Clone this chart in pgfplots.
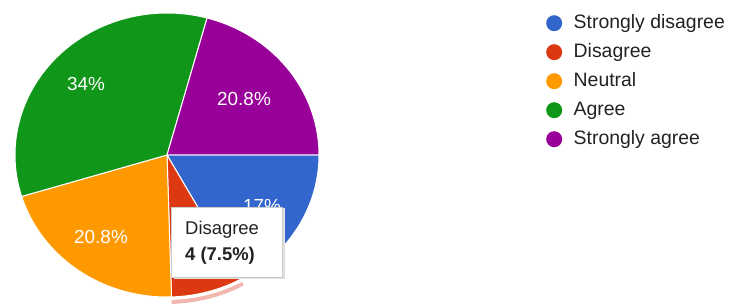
\documentclass[border=0pt]{standalone}
\usepackage{pgfplots}
\pgfplotsset{compat=1.18}
\usepackage{pgfplotstable}
\usepackage{fontspec}
\setmainfont{Liberation Sans}
\definecolor{c0}{HTML}{3366CC}
\definecolor{c1}{HTML}{DC3912}
\definecolor{c2}{HTML}{FF9900}
\definecolor{c3}{HTML}{109618}
\definecolor{c4}{HTML}{990099}
\definecolor{txt}{HTML}{222222}
\definecolor{hover}{HTML}{F2B8B0}

\pgfplotstableread{
name count
{Strongly disagree} 9
{Disagree} 4
{Neutral} 11
{Agree} 18
{Strongly agree} 11
}\piedata

\begin{document}
\begin{tikzpicture}
\useasboundingbox (0,0) rectangle (733bp,305bp);
\begin{axis}[
  at={(0,0)}, anchor=south west,
  width=733bp, height=305bp, scale only axis,
  xmin=0, xmax=733, ymin=0, ymax=305,
  hide axis, clip=false,
  legend image code/.code={\path[#1, draw=none] (8bp,0bp) circle (8bp); \path (27bp,0bp);},
  legend style={at={(543/733,293/305)}, anchor=north west, draw=none, fill=none,
    font=\fontsize{19.5}{23}\selectfont, text=txt, row sep=11bp,
    nodes={inner sep=0pt, text height=14bp, text depth=4bp}},
  legend cell align=left,
]
\def\cx{167}\def\cy{150}\def\rx{152}\def\ry{142}
\def\total{53}
\def\cum{0}
\pgfplotsforeachungrouped \i in {0,...,4}{
  \pgfplotstablegetelem{\i}{count}\of\piedata
  \let\val\pgfplotsretval
  \pgfplotstablegetelem{\i}{name}\of\piedata
  \let\nm\pgfplotsretval
  \pgfmathsetmacro{\a}{-360/\total*(\cum+\val)}
  \pgfmathsetmacro{\b}{-360/\total*\cum}
  \edef\cmd{\noexpand\addplot[fill=c\i, draw=white, line width=1bp, domain=\a:\b, samples=80]
    ({\cx+\rx*cos(x)},{\cy+\ry*sin(x)}) -- (axis cs:\cx,\cy) -- cycle;
    \noexpand\addlegendentry{\nm}}
  \cmd
  \pgfmathsetmacro{\cum}{\cum+\val}
}
% hover ring around the highlighted slice (Disagree)
\addplot[forget plot, draw=hover, line width=4bp, domain=-88.3:-61.1, samples=40]
  ({\cx+(\rx+5)*cos(x)},{\cy+(\ry+5)*sin(x)});
% slice labels
\node[text=white, font=\fontsize{19}{21}\selectfont] at (axis cs:86,221) {34\%};
\node[text=white, font=\fontsize{19}{21}\selectfont] at (axis cs:244,206) {20.8\%};
\node[text=white, font=\fontsize{19}{21}\selectfont] at (axis cs:101,68) {20.8\%};
\node[text=white, font=\fontsize{19}{21}\selectfont] at (axis cs:262,99) {17\%};
% tooltip
\fill[black!12] (axis cs:174,26) rectangle (axis cs:285,97);
\draw[black!20, fill=white] (axis cs:171,28) rectangle (axis cs:282,98);
\node[anchor=west, text=txt, font=\fontsize{18.5}{20}\selectfont, inner sep=0pt] at (axis cs:185,75) {Disagree};
\node[anchor=west, text=txt, font=\fontsize{18.5}{20}\selectfont\bfseries, inner sep=0pt] at (axis cs:185,49) {4 (7.5\%)};
\end{axis}
\end{tikzpicture}
\end{document}
